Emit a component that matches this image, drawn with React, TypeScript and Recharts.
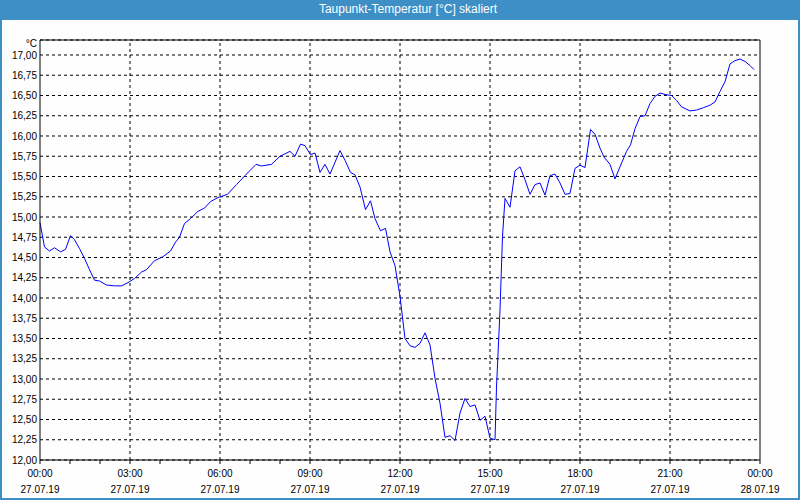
import { CartesianGrid, Line, LineChart, ReferenceLine, XAxis, YAxis } from "recharts";

// Taupunkt over one day, minutes since 00:00 on 27.07.19
const minutes = [
	0, 9, 19, 29, 41, 51, 61, 69, 79, 89, 99, 109, 119, 133, 149, 163, 176, 189, 203, 213,
	229, 246, 261, 271, 279, 289, 299, 316, 329, 341, 356, 375, 393, 410, 432, 443, 463, 480, 500, 510,
	521, 530, 541, 550, 560, 570, 580, 600, 610, 621, 630, 640, 651, 661, 670, 681, 691, 700, 710, 720,
	730, 740, 750, 760, 770, 780, 790, 800, 810, 820, 830, 840, 850, 860, 870, 880, 890, 900, 910, 913,
	920, 925, 930, 940, 950, 960, 970, 980, 990, 1000, 1010, 1020, 1030, 1040, 1050, 1060, 1070, 1080, 1090, 1101,
	1110, 1120, 1128, 1140, 1150, 1160, 1173, 1181, 1190, 1200, 1210, 1220, 1230, 1240, 1252, 1263, 1273, 1283, 1300, 1313,
	1327, 1340, 1350, 1360, 1370, 1380, 1390, 1400, 1410, 1420, 1428,
];
const dewPoint = [
	14.93, 14.63, 14.58, 14.62, 14.57, 14.6, 14.77, 14.72, 14.61, 14.49, 14.35, 14.22, 14.21, 14.16, 14.15, 14.15, 14.19, 14.24, 14.32, 14.35,
	14.46, 14.51, 14.58, 14.69, 14.75, 14.92, 14.97, 15.07, 15.11, 15.19, 15.24, 15.28, 15.4, 15.51, 15.65, 15.63, 15.65, 15.75, 15.81, 15.75,
	15.9, 15.88, 15.77, 15.79, 15.55, 15.65, 15.53, 15.82, 15.7, 15.55, 15.52, 15.37, 15.09, 15.2, 14.98, 14.83, 14.86, 14.57, 14.4, 14.02,
	13.5, 13.41, 13.39, 13.44, 13.57, 13.42, 13.01, 12.7, 12.28, 12.3, 12.24, 12.58, 12.76, 12.66, 12.68, 12.49, 12.54, 12.27, 12.25, 12.9,
	13.85, 14.76, 15.23, 15.12, 15.57, 15.62, 15.46, 15.28, 15.4, 15.42, 15.27, 15.51, 15.53, 15.42, 15.28, 15.29, 15.6, 15.64, 15.61, 16.08,
	16.02, 15.85, 15.74, 15.65, 15.47, 15.62, 15.81, 15.89, 16.09, 16.24, 16.25, 16.4, 16.49, 16.53, 16.51, 16.5, 16.44, 16.36, 16.31, 16.32,
	16.35, 16.38, 16.42, 16.55, 16.67, 16.89, 16.93, 16.95, 16.92, 16.87, 16.82,
];

const majorTicks = [0, 180, 360, 540, 720, 900, 1080, 1260, 1440];
const timeLabels = ["00:00", "03:00", "06:00", "09:00", "12:00", "15:00", "18:00", "21:00", "00:00"];
const dateLabels = ["27.07.19", "27.07.19", "27.07.19", "27.07.19", "27.07.19", "27.07.19", "27.07.19", "27.07.19", "28.07.19"];
const hourTicks = Array.from({ length: 25 }, (_, i) => i * 60);
const yTicks = [12, 12.25, 12.5, 12.75, 13, 13.25, 13.5, 13.75, 14, 14.25, 14.5, 14.75, 15, 15.25, 15.5, 15.75, 16, 16.25, 16.5, 16.75, 17];
const yTop = 17.185;

const data = minutes.map((m, i) => ({ m, v: dewPoint[i] }));

const FONT = "Tahoma, 'Liberation Sans', sans-serif";
const FRAME = "#3d8fc6";

function TimeTick({ x, y, payload }: any) {
	const i = majorTicks.indexOf(payload.value);
	if (i < 0) return null;
	return (
		<g>
			<text x={x} y={y + 13} textAnchor="middle" fontSize={10} fontFamily={FONT} fill="#000">
				{timeLabels[i]}
			</text>
			<text x={x} y={y + 29} textAnchor="middle" fontSize={10} fontFamily={FONT} fill="#000">
				{dateLabels[i]}
			</text>
		</g>
	);
}

export default function App() {
	return (
		<div style={{ position: "absolute", left: 0, top: 0, width: 800, height: 500, background: "#fdfefd", fontFamily: FONT }}>
			<div
				style={{
					position: "absolute", left: 0, top: 0, width: 800, height: 20, background: FRAME,
					color: "#fff", fontSize: 12, lineHeight: "19px", textAlign: "center", paddingLeft: 16, boxSizing: "border-box",
				}}
			>
				Taupunkt-Temperatur [°C] skaliert
			</div>
			<div
				style={{
					position: "absolute", left: 0, top: 0, width: 800, height: 500, boxSizing: "border-box",
					borderLeft: `2px solid ${FRAME}`, borderRight: `2px solid ${FRAME}`, borderBottom: `2px solid ${FRAME}`,
					pointerEvents: "none",
				}}
			/>
			<div style={{ position: "absolute", left: 0, top: 38, width: 37, textAlign: "right", fontSize: 10, color: "#000" }}>°C</div>
			<div style={{ position: "absolute", left: 0, top: 0 }}>
				<LineChart width={800} height={500} data={data} margin={{ top: 40, right: 40, bottom: 0, left: 0 }}>
					<CartesianGrid vertical={false} stroke="#000" strokeDasharray="3 3" />
					{majorTicks.slice(1, -1).map((t) => (
						<ReferenceLine key={t} x={t} stroke="#000" strokeDasharray="3 3" />
					))}
					<ReferenceLine x={1440} stroke="#000" />
					<ReferenceLine y={yTop} stroke="#000" />
					<XAxis
						dataKey="m"
						type="number"
						domain={[0, 1440]}
						ticks={hourTicks}
						interval={0}
						height={40}
						tickSize={4}
						tickMargin={0}
						stroke="#000"
						tickLine={{ stroke: "#000" }}
						tick={<TimeTick />}
					/>
					<YAxis
						type="number"
						domain={[12, yTop]}
						ticks={yTicks}
						interval={0}
						width={40}
						tickLine={false}
						tickSize={0}
						tickMargin={3}
						stroke="#000"
						tick={{ fontSize: 10, fontFamily: FONT, fill: "#000" }}
						tickFormatter={(v: number) => v.toFixed(2).replace(".", ",")}
						allowDataOverflow
					/>
					<Line type="linear" dataKey="v" stroke="#0000ff" strokeWidth={1} dot={false} isAnimationActive={false} />
				</LineChart>
			</div>
		</div>
	);
}
